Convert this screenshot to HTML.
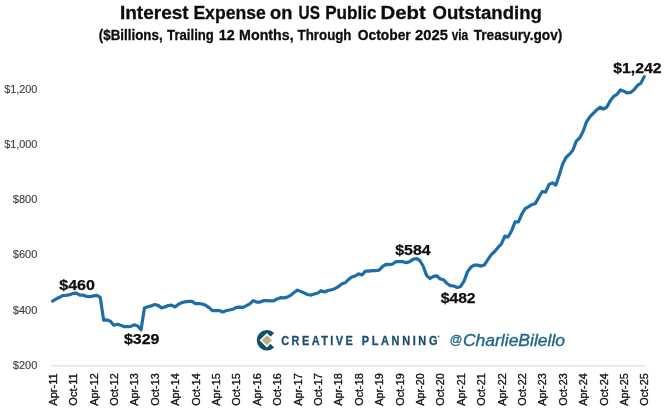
<!DOCTYPE html>
<html><head><meta charset="utf-8"><title>Interest Expense on US Public Debt Outstanding</title>
<style>
html,body{margin:0;padding:0;background:#fff;}
body{width:666px;height:413px;overflow:hidden;}
svg{display:block;font-family:"Liberation Sans",sans-serif;}
</style></head><body>
<svg width="666" height="413" viewBox="0 0 666 413">
<rect width="666" height="413" fill="#ffffff"/>
<g font-weight="bold" fill="#0d0d0d" stroke="#0d0d0d" stroke-width="0.3">
<text y="18.8" font-size="18.8"><tspan x="119.90" textLength="68.82" lengthAdjust="spacingAndGlyphs">Interest</tspan> <tspan x="193.40" textLength="72.33" lengthAdjust="spacingAndGlyphs">Expense</tspan> <tspan x="270.00" textLength="22.33" lengthAdjust="spacingAndGlyphs">on</tspan> <tspan x="298.60" textLength="21.31" lengthAdjust="spacingAndGlyphs">US</tspan> <tspan x="325.20" textLength="51.34" lengthAdjust="spacingAndGlyphs">Public</tspan> <tspan x="380.50" textLength="45.24" lengthAdjust="spacingAndGlyphs">Debt</tspan> <tspan x="432.50" textLength="109.32" lengthAdjust="spacingAndGlyphs">Outstanding</tspan></text>
<text y="40.1" font-size="14.7"><tspan x="98.80" textLength="63.82" lengthAdjust="spacingAndGlyphs">($Billions,</tspan> <tspan x="167.10" textLength="46.80" lengthAdjust="spacingAndGlyphs">Trailing</tspan> <tspan x="218.80" textLength="15.99" lengthAdjust="spacingAndGlyphs">12</tspan> <tspan x="239.10" textLength="54.54" lengthAdjust="spacingAndGlyphs">Months,</tspan> <tspan x="297.60" textLength="53.90" lengthAdjust="spacingAndGlyphs">Through</tspan> <tspan x="357.80" textLength="52.89" lengthAdjust="spacingAndGlyphs">October</tspan> <tspan x="415.00" textLength="32.90" lengthAdjust="spacingAndGlyphs">2025</tspan> <tspan x="451.70" textLength="16.50" lengthAdjust="spacingAndGlyphs">via</tspan> <tspan x="473.70" textLength="88.60" lengthAdjust="spacingAndGlyphs">Treasury.gov)</tspan></text>
</g>
<line x1="51.2" y1="365.9" x2="645.5" y2="365.9" stroke="#d3d3d3" stroke-width="1"/>
<g font-size="11.1" fill="#3c3c3c" stroke="#3c3c3c" stroke-width="0.12">
<text x="37.4" y="92.6" text-anchor="end" textLength="33.2" lengthAdjust="spacingAndGlyphs">$1,200</text>
<text x="37.4" y="147.8" text-anchor="end" textLength="33.2" lengthAdjust="spacingAndGlyphs">$1,000</text>
<text x="37.4" y="203.1" text-anchor="end" textLength="24.6" lengthAdjust="spacingAndGlyphs">$800</text>
<text x="37.4" y="258.3" text-anchor="end" textLength="24.6" lengthAdjust="spacingAndGlyphs">$600</text>
<text x="37.4" y="313.6" text-anchor="end" textLength="24.6" lengthAdjust="spacingAndGlyphs">$400</text>
<text x="37.4" y="368.9" text-anchor="end" textLength="24.6" lengthAdjust="spacingAndGlyphs">$200</text>
</g>
<g font-size="10.75" fill="#141414" stroke="#141414" stroke-width="0.35">
<text transform="translate(56.80,405.7) rotate(-90)" textLength="32.4" lengthAdjust="spacingAndGlyphs">Apr-11</text>
<text transform="translate(77.20,405.7) rotate(-90)" textLength="32.4" lengthAdjust="spacingAndGlyphs">Oct-11</text>
<text transform="translate(97.60,405.7) rotate(-90)" textLength="32.4" lengthAdjust="spacingAndGlyphs">Apr-12</text>
<text transform="translate(118.00,405.7) rotate(-90)" textLength="32.4" lengthAdjust="spacingAndGlyphs">Oct-12</text>
<text transform="translate(138.40,405.7) rotate(-90)" textLength="32.4" lengthAdjust="spacingAndGlyphs">Apr-13</text>
<text transform="translate(158.80,405.7) rotate(-90)" textLength="32.4" lengthAdjust="spacingAndGlyphs">Oct-13</text>
<text transform="translate(179.20,405.7) rotate(-90)" textLength="32.4" lengthAdjust="spacingAndGlyphs">Apr-14</text>
<text transform="translate(199.60,405.7) rotate(-90)" textLength="32.4" lengthAdjust="spacingAndGlyphs">Oct-14</text>
<text transform="translate(220.00,405.7) rotate(-90)" textLength="32.4" lengthAdjust="spacingAndGlyphs">Apr-15</text>
<text transform="translate(240.40,405.7) rotate(-90)" textLength="32.4" lengthAdjust="spacingAndGlyphs">Oct-15</text>
<text transform="translate(260.80,405.7) rotate(-90)" textLength="32.4" lengthAdjust="spacingAndGlyphs">Apr-16</text>
<text transform="translate(281.20,405.7) rotate(-90)" textLength="32.4" lengthAdjust="spacingAndGlyphs">Oct-16</text>
<text transform="translate(301.60,405.7) rotate(-90)" textLength="32.4" lengthAdjust="spacingAndGlyphs">Apr-17</text>
<text transform="translate(322.00,405.7) rotate(-90)" textLength="32.4" lengthAdjust="spacingAndGlyphs">Oct-17</text>
<text transform="translate(342.40,405.7) rotate(-90)" textLength="32.4" lengthAdjust="spacingAndGlyphs">Apr-18</text>
<text transform="translate(362.80,405.7) rotate(-90)" textLength="32.4" lengthAdjust="spacingAndGlyphs">Oct-18</text>
<text transform="translate(383.20,405.7) rotate(-90)" textLength="32.4" lengthAdjust="spacingAndGlyphs">Apr-19</text>
<text transform="translate(403.60,405.7) rotate(-90)" textLength="32.4" lengthAdjust="spacingAndGlyphs">Oct-19</text>
<text transform="translate(424.00,405.7) rotate(-90)" textLength="32.4" lengthAdjust="spacingAndGlyphs">Apr-20</text>
<text transform="translate(444.40,405.7) rotate(-90)" textLength="32.4" lengthAdjust="spacingAndGlyphs">Oct-20</text>
<text transform="translate(464.80,405.7) rotate(-90)" textLength="32.4" lengthAdjust="spacingAndGlyphs">Apr-21</text>
<text transform="translate(485.20,405.7) rotate(-90)" textLength="32.4" lengthAdjust="spacingAndGlyphs">Oct-21</text>
<text transform="translate(505.60,405.7) rotate(-90)" textLength="32.4" lengthAdjust="spacingAndGlyphs">Apr-22</text>
<text transform="translate(526.00,405.7) rotate(-90)" textLength="32.4" lengthAdjust="spacingAndGlyphs">Oct-22</text>
<text transform="translate(546.40,405.7) rotate(-90)" textLength="32.4" lengthAdjust="spacingAndGlyphs">Apr-23</text>
<text transform="translate(566.80,405.7) rotate(-90)" textLength="32.4" lengthAdjust="spacingAndGlyphs">Oct-23</text>
<text transform="translate(587.20,405.7) rotate(-90)" textLength="32.4" lengthAdjust="spacingAndGlyphs">Apr-24</text>
<text transform="translate(607.60,405.7) rotate(-90)" textLength="32.4" lengthAdjust="spacingAndGlyphs">Oct-24</text>
<text transform="translate(628.00,405.7) rotate(-90)" textLength="32.4" lengthAdjust="spacingAndGlyphs">Apr-25</text>
<text transform="translate(648.40,405.7) rotate(-90)" textLength="32.4" lengthAdjust="spacingAndGlyphs">Oct-25</text>
</g>
<polyline fill="none" stroke="#1d6ea7" stroke-width="3.2" stroke-linejoin="round" stroke-linecap="round" points="52.65,301.1 56.05,299.0 59.45,297.3 62.85,295.5 66.25,295.3 69.65,294.7 73.05,293.5 76.45,293.2 79.85,295.1 83.25,295.1 86.65,296.5 90.05,296.7 93.45,295.9 96.85,295.3 100.25,297.4 103.65,320.2 107.05,319.9 110.45,321.2 113.85,325.2 117.25,324.3 120.65,325.2 124.05,326.6 127.45,326.6 130.85,326.4 134.25,324.8 137.65,326.0 141.05,329.8 144.45,308.0 147.85,306.8 151.25,305.9 154.65,304.5 158.05,305.4 161.45,307.9 164.85,306.9 168.25,305.6 171.65,305.2 175.05,306.9 178.45,304.2 181.85,302.6 185.25,301.8 188.65,301.3 192.05,301.3 195.45,303.6 198.85,303.6 202.25,304.0 205.65,305.3 209.05,307.6 212.45,310.6 215.85,310.6 219.25,310.6 222.65,312.0 226.05,310.8 229.45,310.0 232.85,309.3 236.25,307.4 239.65,307.1 243.05,307.4 246.45,305.6 249.85,303.9 253.25,300.6 256.65,302.1 260.05,302.1 263.45,300.7 266.85,300.6 270.25,300.9 273.65,300.9 277.05,299.0 280.45,297.7 283.85,297.9 287.25,297.1 290.65,295.4 294.05,292.5 297.45,290.1 300.85,291.6 304.25,293.0 307.65,294.5 311.05,295.1 314.45,294.0 317.85,293.0 321.25,290.7 324.65,292.0 328.05,290.5 331.45,289.7 334.85,288.7 338.25,286.7 341.65,284.0 345.05,282.8 348.45,279.6 351.85,277.0 355.25,275.9 358.65,273.8 362.05,274.9 365.45,271.2 368.85,271.2 372.25,270.6 375.65,270.6 379.05,270.1 382.45,266.6 385.85,264.4 389.25,264.6 392.65,264.0 396.05,261.7 399.45,261.7 402.85,261.7 406.25,262.6 409.65,261.7 413.05,259.4 416.45,258.5 419.85,260.5 423.25,266.3 426.65,275.6 430.05,278.5 433.45,276.4 436.85,275.8 440.25,279.0 443.65,279.8 447.05,283.5 450.45,285.6 453.85,286.0 457.25,287.6 460.65,286.4 464.05,281.2 467.45,271.9 470.85,267.2 474.25,265.1 477.65,265.1 481.05,266.1 484.45,264.9 487.85,259.7 491.25,254.7 494.65,251.5 498.05,247.4 501.45,243.8 504.85,236.2 508.25,236.8 511.65,230.7 515.05,221.9 518.45,221.9 521.85,214.0 525.25,208.6 528.65,206.7 532.05,204.5 535.45,203.4 538.85,197.3 542.25,191.5 545.65,192.1 549.05,184.4 552.45,182.9 555.85,185.1 559.25,174.9 562.65,164.0 566.05,157.5 569.45,154.2 572.85,150.2 576.25,141.2 579.65,138.0 583.05,131.5 586.45,122.0 589.85,116.9 593.25,113.3 596.65,110.0 600.05,107.1 603.45,109.0 606.85,107.1 610.25,100.7 613.65,96.4 617.05,94.3 620.45,89.9 623.85,91.2 627.25,93.0 630.65,92.4 634.05,89.7 637.45,85.4 640.85,83.3 644.25,76.6"/>
<g font-weight="bold" fill="#0d0d0d" font-size="14.8" stroke="#0d0d0d" stroke-width="0.25">
<text x="59.3" y="289.5" textLength="35.6" lengthAdjust="spacingAndGlyphs">$460</text>
<text x="123.9" y="344" textLength="35.6" lengthAdjust="spacingAndGlyphs">$329</text>
<text x="395.2" y="255.2" textLength="35.4" lengthAdjust="spacingAndGlyphs">$584</text>
<text x="440.7" y="303.2" textLength="34.9" lengthAdjust="spacingAndGlyphs">$482</text>
<text x="613.2" y="73.3" textLength="48.4" lengthAdjust="spacingAndGlyphs">$1,242</text>
</g>
<!-- logo -->
<g>
<path fill="#114f6f" fill-rule="evenodd" d="M256.7,340.3 a10.2,10.2 0 1,0 20.4,0 a10.2,10.2 0 1,0 -20.4,0 Z M259.6,340.3 L266.9,333 L274.2,340.3 L266.9,347.6 Z"/>
<polygon points="266.9,340.3 280,327.2 280,353.4" fill="#ffffff"/>
<polygon points="261.9,340.3 266.9,335.3 271.9,340.3 266.9,345.3" fill="#c4aa7c"/>
<g font-size="12.15" font-weight="bold" fill="#184f70" stroke="#184f70" stroke-width="0.3">
<text transform="translate(281.2,344.5) scale(0.9,1)" y="0"><tspan x="0" textLength="79.6" lengthAdjust="spacing">CREATIVE</tspan> <tspan x="89.56" textLength="84" lengthAdjust="spacing">PLANNING</tspan></text>
</g>
<circle cx="438.5" cy="336.4" r="0.8" fill="#184f70"/>
<g font-style="italic" fill="#1f678a" stroke="#1f678a" stroke-width="0.35">
<text><tspan x="449.5" y="343.9" font-size="12.6" textLength="12.6" lengthAdjust="spacingAndGlyphs">@</tspan><tspan x="462.9" y="345.6" font-size="16.8" textLength="102.2" lengthAdjust="spacingAndGlyphs">CharlieBilello</tspan></text>
</g>
</g>
</svg>
</body></html>
